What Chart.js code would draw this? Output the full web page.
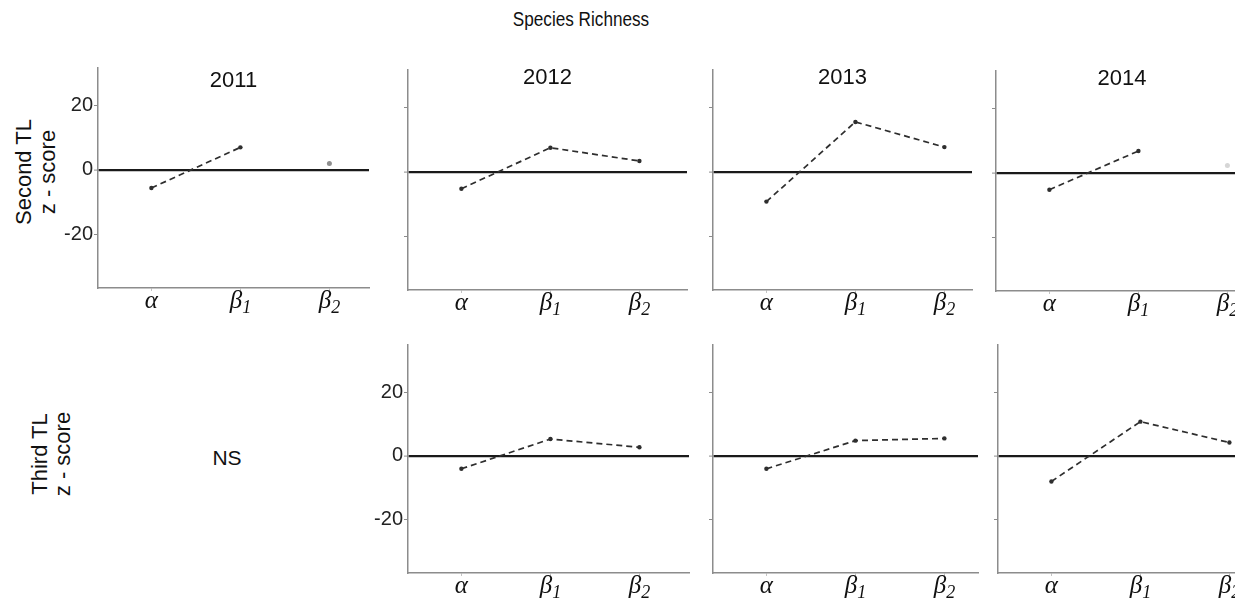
<!DOCTYPE html>
<html>
<head>
<meta charset="utf-8">
<script src="https://cdn.jsdelivr.net/npm/chart.js@4.4.1/dist/chart.umd.min.js"></script>
<style>
  html, body { margin: 0; padding: 0; background: #fff; overflow: hidden; }
  #page { position: relative; width: 1235px; height: 603px; overflow: hidden;
          font-family: "Liberation Sans", Arial, sans-serif; color: #111; }
  #page canvas { position: absolute; }
  .txt { position: absolute; white-space: nowrap; transform: translateX(-50%); }
  .rot { position: absolute; white-space: nowrap; text-align: center; font-size: 22px;
         transform: translate(-50%, -50%) rotate(-90deg); }
</style>
</head>
<body>
<div id="page">
  <div class="txt" style="left:581px; top:10px; font-size:19.5px; line-height:19.5px; transform:translateX(-50%) scaleX(0.88);">Species Richness</div>
  <div class="rot" style="left:36px; top:172px; line-height:24px;">Second TL<br>z - score</div>
  <div class="rot" style="left:51px; top:454px; line-height:23px;">Third TL<br>z - score</div>
  <div class="txt" style="left:227px; top:447px; font-size:21px; line-height:21px;">NS</div>
</div>
<script>
// ---------------- Data --------------------------------------------------
const categories = [ 'α', 'β1', 'β2' ] ;
const yTicks = [ -20, 0, 20 ] ;

// z-scores, second trophic level
const second2011 = [ -5.6, 7.0, 2.0 ] ;
const second2012 = [ -5.2, 7.5, 3.4 ] ;
const second2013 = [ -9.2, 15.5, 7.7 ] ;
const second2014 = [ -5.2, 6.8, 2.3 ] ;

// z-scores, third trophic level (2011 not significant)
const third2012 = [ -4.1, 5.3, 2.7 ] ;
const third2013 = [ -4.1, 4.8, 5.5 ] ;
const third2014 = [ -8.1, 10.8, 4.2 ] ;

// non-significant components, drawn as a lone grey point
const second2011NS = [ false, false, true ] ;
const second2014NS = [ false, false, true ] ;
const allSig = [ false, false, false ] ;

// ---------------- Layout ------------------------------------------------
const AXIS_W = 50 ;      // space left of the plot for y ticks
const PAD_TOP = 4 ;
const X_AXIS_H = 40 ;
const PX_PER_CAT = 89 ;
const X_MIN = -0.6 ;

const panels = [
    { year: '2011', values: second2011, ns: second2011NS, nsColor: '#8f8f8f',
      axisX: 98,  top: 68,  w: 271, h: 220, yMin: -36.6, yMax: 31.6, yLabels: true,  titleY: 13 },
    { year: '2012', values: second2012, ns: allSig, nsColor: '#8f8f8f',
      axisX: 408, top: 70,  w: 279, h: 220, yMin: -36.6, yMax: 31.6, yLabels: false, titleY: 8 },
    { year: '2013', values: second2013, ns: allSig, nsColor: '#8f8f8f',
      axisX: 713, top: 70,  w: 259, h: 220, yMin: -36.6, yMax: 31.6, yLabels: false, titleY: 8 },
    { year: '2014', values: second2014, ns: second2014NS, nsColor: '#d6d6d6',
      axisX: 996, top: 71,  w: 252, h: 220, yMin: -36.6, yMax: 31.6, yLabels: false, titleY: 8 },
    { year: '', values: third2012, ns: allSig, nsColor: '#8f8f8f',
      axisX: 408, top: 345, w: 281, h: 228, yMin: -37, yMax: 35, yLabels: true,  titleY: 0 },
    { year: '', values: third2013, ns: allSig, nsColor: '#8f8f8f',
      axisX: 713, top: 345, w: 265, h: 228, yMin: -37, yMax: 35, yLabels: false, titleY: 0 },
    { year: '', values: third2014, ns: allSig, nsColor: '#8f8f8f',
      axisX: 998, top: 345, w: 252, h: 228, yMin: -37, yMax: 35, yLabels: false, titleY: 0 }
] ;

// year title inside the plot and the greek x labels with subscripts
const panelText = {
    id: 'panelText',
    afterDraw( chart, args, opts ) {
        const { ctx, chartArea } = chart ;
        const xs = chart.scales.x ;
        ctx.save() ;
        ctx.fillStyle = '#111' ;
        if( opts.year ) {
            ctx.font = '22px "Liberation Sans", Arial, sans-serif' ;
            ctx.textAlign = 'center' ;
            ctx.textBaseline = 'middle' ;
            ctx.fillText( opts.year, ( chartArea.left + chartArea.right ) / 2, chartArea.top + opts.titleY ) ;
        }
        ctx.textAlign = 'left' ;
        ctx.textBaseline = 'alphabetic' ;
        const mainFont = 'italic 25px "Liberation Serif", "Times New Roman", serif' ;
        const subFont  = 'italic 18px "Liberation Serif", "Times New Roman", serif' ;
        categories.forEach( ( c, i ) => {
            const base = c[0], sub = c.slice( 1 ) ;
            ctx.font = mainFont ;
            const bw = ctx.measureText( base ).width ;
            ctx.font = subFont ;
            const sw = sub ? ctx.measureText( sub ).width : 0 ;
            const x0 = xs.getPixelForValue( i ) - ( bw + sw ) / 2 ;
            const y = chartArea.bottom + 20 ;
            ctx.font = mainFont ;
            ctx.fillText( base, x0, y ) ;
            if( sub ) {
                ctx.font = subFont ;
                ctx.fillText( sub, x0 + bw, y + 5 ) ;
            }
        } ) ;
        ctx.restore() ;
    }
} ;

const page = document.getElementById( 'page' ) ;

function isZero( c ) {
    return c.tick && c.tick.value === 0 ;
}

function makePanel( p ) {
    const canvas = document.createElement( 'canvas' ) ;
    const cw = AXIS_W + p.w + 6 ;
    const ch = PAD_TOP + p.h + X_AXIS_H ;
    canvas.width = cw ;
    canvas.height = ch ;
    canvas.style.width = cw + 'px' ;
    canvas.style.height = ch + 'px' ;
    canvas.style.left = ( p.axisX - AXIS_W ) + 'px' ;
    canvas.style.top = ( p.top - PAD_TOP ) + 'px' ;
    page.appendChild( canvas ) ;

    const linked = p.values.map( ( v, i ) => ( { x: i, y: p.ns[i] ? null : v } ) ) ;
    const lone   = p.values.map( ( v, i ) => ( { x: i, y: p.ns[i] ? v : null } ) ) ;

    new Chart( canvas, {
        type: 'line',
        data: {
            datasets: [ {
                data: linked,
                borderColor: '#2e2e2e',
                borderWidth: 1.7,
                borderDash: [ 6, 4 ],
                pointRadius: 2.2,
                pointBackgroundColor: '#2e2e2e',
                pointBorderWidth: 0,
                tension: 0
            }, {
                data: lone,
                showLine: false,
                pointRadius: 2.5,
                pointBackgroundColor: p.nsColor,
                pointBorderWidth: 0
            } ]
        },
        options: {
            responsive: false,
            animation: false,
            devicePixelRatio: 1,
            layout: { padding: { top: PAD_TOP, right: 6, left: 0, bottom: 0 } },
            plugins: {
                legend: { display: false },
                tooltip: { enabled: false },
                panelText: { year: p.year, titleY: p.titleY }
            },
            scales: {
                x: {
                    type: 'linear',
                    min: X_MIN,
                    max: X_MIN + p.w / PX_PER_CAT,
                    afterBuildTicks: s => { s.ticks = categories.map( ( c, i ) => ( { value: i } ) ) ; },
                    afterFit: s => { s.height = X_AXIS_H ; s.paddingLeft = 0 ; s.paddingRight = 0 ; },
                    ticks: { display: false },
                    border: { color: '#8c8c8c', width: 1.5 },
                    grid: { drawOnChartArea: false, tickLength: 3, tickColor: '#c4c4c4', tickWidth: 1 }
                },
                y: {
                    min: p.yMin,
                    max: p.yMax,
                    afterBuildTicks: s => { s.ticks = yTicks.map( v => ( { value: v } ) ) ; },
                    // keep the plot box fixed whether or not the labels are shown
                    afterFit: s => { s.width = AXIS_W ; s.paddingTop = 0 ; s.paddingBottom = 0 ; },
                    ticks: {
                        display: p.yLabels,
                        padding: 1,
                        color: '#222',
                        font: { family: '"Liberation Sans", Arial, sans-serif', size: 20 }
                    },
                    border: { color: '#8c8c8c', width: 1.5 },
                    grid: {
                        color: c => isZero( c ) ? '#1a1a1a' : 'rgba(0,0,0,0)',
                        lineWidth: c => isZero( c ) ? 2.2 : 1,
                        tickColor: '#8c8c8c',
                        tickLength: 4,
                        tickWidth: 1
                    }
                }
            }
        },
        plugins: [ panelText ]
    } ) ;
}

panels.forEach( makePanel ) ;
</script>
</body>
</html>
